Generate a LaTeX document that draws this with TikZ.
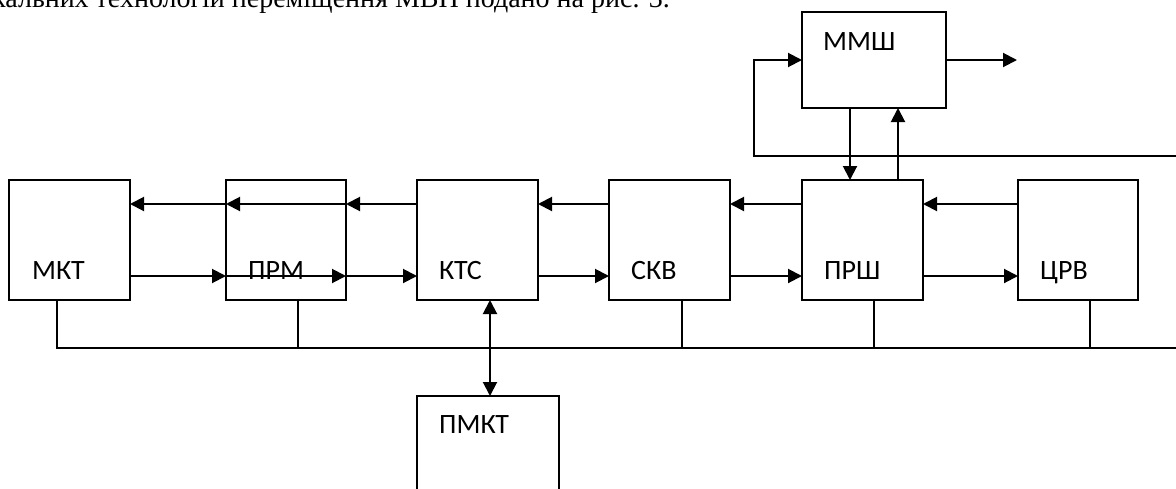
\documentclass[tikz,border=0pt]{standalone}
\usepackage{fontspec}
\newfontfamily\labfont{Carlito}
\newfontfamily\bodyfont{Liberation Serif}
\usetikzlibrary{arrows.meta}
\begin{document}
\begin{tikzpicture}[x=1pt,y=-1pt,
  blk/.style={draw,line width=2.2pt,inner sep=0pt,outer sep=0pt,anchor=north west,minimum height=120pt},
  lbl/.style={anchor=base west,inner sep=0pt,font=\labfont\fontsize{28}{30}\selectfont},
  wire/.style={line width=2pt},
  tip/.tip={Triangle[length=14pt,width=14pt]},
  arr/.style={wire,-tip},
  up/.style={yshift=-24pt},
  dn/.style={yshift=24pt}]
\useasboundingbox (0,0) rectangle (1176,488);
\clip (0,0) rectangle (1176,488);

% running text above the figure (cut by the page edge)
\node[anchor=base west,inner sep=0pt,font=\bodyfont\fontsize{28}{28}\selectfont] (caption) at (-8,7)
  {кальних технологій переміщення МВП подано на рис. 3.};

% blocks
\node[blk,minimum width=121pt] (mkt)  at (9,180) {};
\node[blk,minimum width=120pt] (prm)  at (226,180) {};
\node[blk,minimum width=121pt] (kts)  at (417,180) {};
\node[blk,minimum width=121pt] (skv)  at (609,180) {};
\node[blk,minimum width=121pt] (prsh) at (802,180) {};
\node[blk,minimum width=120pt] (crv)  at (1018,180) {};
\node[blk,minimum width=144pt,minimum height=96pt] (mmsh) at (802,12) {};
\node[blk,minimum width=142pt] (pmkt) at (417,396) {};

% labels
\node[lbl] (lmkt)  at ([xshift=23pt,yshift=21pt]mkt.south west)  {МКТ};
\node[lbl] (lprm)  at ([xshift=22pt,yshift=21pt]prm.south west)  {ПРМ};
\node[lbl] (lkts)  at ([xshift=22pt,yshift=21pt]kts.south west)  {КТС};
\node[lbl] (lskv)  at ([xshift=22pt,yshift=21pt]skv.south west)  {СКВ};
\node[lbl] (lprsh) at ([xshift=22pt,yshift=21pt]prsh.south west) {ПРШ};
\node[lbl] (lcrv)  at ([xshift=22pt,yshift=21pt]crv.south west)  {ЦРВ};
\node[lbl] (lmmsh) at ([xshift=21pt,yshift=-38pt]mmsh.north west) {ММШ};
\node[lbl] (lpmkt) at ([xshift=22pt,yshift=-37pt]pmkt.north west) {ПМКТ};

% backward flow (upper line)
\draw[arr] ([up]kts.north west) -- ([up]prm.north east);
\draw[arr] ([up]prm.north east) -- ([up]prm.north west);
\draw[arr] ([up]prm.north west) -- ([up]mkt.north east);
\draw[arr] ([up]skv.north west) -- ([up]kts.north east);
\draw[arr] ([up]prsh.north west) -- ([up]skv.north east);
\draw[arr] ([up]crv.north west) -- ([up]prsh.north east);

% forward flow (lower line)
\draw[arr] ([dn]mkt.south east) -- ([dn]prm.south west);
\draw[arr] ([dn]prm.south west) -- ([dn]prm.south east);
\draw[arr] ([dn]prm.south east) -- ([dn]kts.south west);
\draw[arr] ([dn]kts.south east) -- ([dn]skv.south west);
\draw[arr] ([dn]skv.south east) -- ([dn]prsh.south west);
\draw[arr] ([dn]prsh.south east) -- ([dn]crv.south west);

% links with the upper block
\draw[arr] ([xshift=48pt]mmsh.south west) -- ([xshift=48pt]prsh.north west);
\draw[arr] ([xshift=96pt]prsh.north west) -- ([xshift=96pt]mmsh.south west);
\coordinate (out) at (1017,60);
\draw[arr] (mmsh.east) -- (out);
\coordinate (fb) at (1176,156);
\draw[arr] (fb) -| ([xshift=-48pt]mmsh.west) -- (mmsh.west);

% common bus
\coordinate (bus) at (1176,348);
\draw[wire] ([xshift=48pt]mkt.south west) |- (bus);
\draw[wire] ([xshift=72pt]prm.south west)  -- ([xshift=72pt]prm.south west |- bus);
\draw[wire] ([xshift=73pt]skv.south west)  -- ([xshift=73pt]skv.south west |- bus);
\draw[wire] ([xshift=72pt]prsh.south west) -- ([xshift=72pt]prsh.south west |- bus);
\draw[wire] ([xshift=72pt]crv.south west)  -- ([xshift=72pt]crv.south west |- bus);

% exchange with the lower block
\draw[wire,tip-tip] ([xshift=73pt]kts.south west) -- ([xshift=73pt]pmkt.north west);
\end{tikzpicture}
\end{document}
